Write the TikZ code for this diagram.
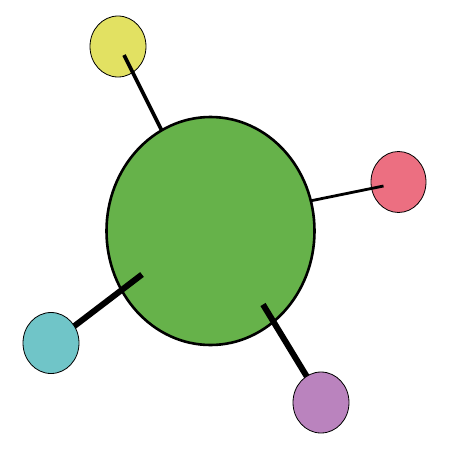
\documentclass[tikz,border=0pt]{standalone}
\usepackage{xcolor}
\usepackage{tikz}
\usetikzlibrary{shapes.geometric}

\definecolor{blobgreen}{RGB}{102,178,74}
\definecolor{dotyellow}{RGB}{226,225,98}
\definecolor{dotpink}{RGB}{236,111,129}
\definecolor{dotcyan}{RGB}{112,197,200}
\definecolor{dotpurple}{RGB}{186,131,190}

\tikzset{
  dot/.style={ellipse, draw=black, line width=0.8pt, inner sep=0pt, minimum width=56pt, minimum height=61pt},
  stick/.style={draw=black, line cap=butt}
}

\begin{document}
\begin{tikzpicture}[x=1pt,y=1pt,yscale=-1,xscale=1]
\useasboundingbox (0,0) rectangle (450,450);

% Small circles behind the blob
\node [dot, fill=dotyellow] (yellow) at (118,46.5) {};
\node [dot, fill=dotpink, minimum width=55pt] (pink) at (398.5,182) {};

% Sticks under the blob
\coordinate (yellowend) at (124,55);
\coordinate (pinkend) at (383.5,186);
\draw [stick, line width=3.6pt] (yellowend) -- (165,137);
\draw [stick, line width=2.8pt] (pinkend) -- (300,203);

% Big blob
\node [ellipse, draw=black, line width=2.6pt, fill=blobgreen, inner sep=0pt, minimum width=208pt, minimum height=228pt] (blob) at (210.5,231) {};

% Sticks over the blob
\coordinate (cyanend) at (142,274.5);
\coordinate (purpleend) at (263,304.5);
\draw [stick, line width=6pt] (cyanend) -- (60,337);
\draw [stick, line width=6pt] (purpleend) -- (315,390);

% Small circles in front
\node [dot, fill=dotcyan] (cyan) at (51,343) {};
\node [dot, fill=dotpurple] (purple) at (321,402.5) {};
\end{tikzpicture}
\end{document}
